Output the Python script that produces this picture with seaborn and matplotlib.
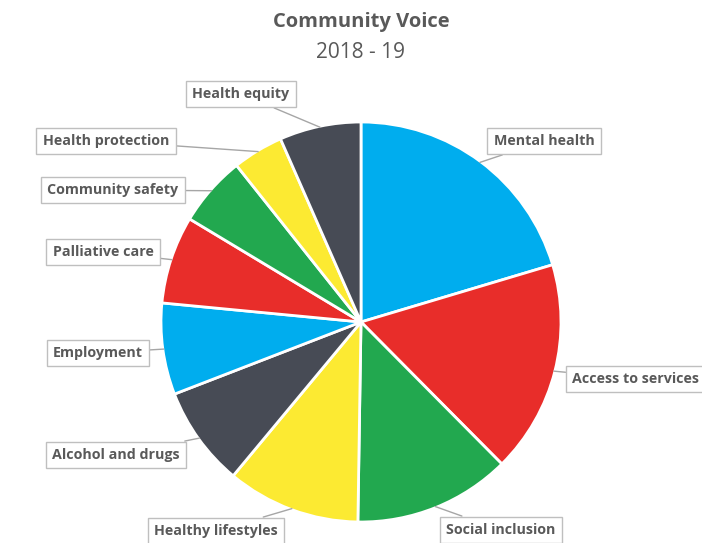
import matplotlib
matplotlib.use("Agg")
import matplotlib.pyplot as plt
import seaborn as sns
import numpy as np

categories = ["Mental health", "Access to services", "Social inclusion", "Healthy lifestyles",
              "Alcohol and drugs", "Employment", "Palliative care", "Community safety",
              "Health protection", "Health equity"]
values = [20.4, 17.2, 12.7, 10.8, 8.1, 7.4, 7.1, 5.7, 4.1, 6.6]
colors = ["#00ADEE", "#E82D2A", "#22A84F", "#FCEA32", "#474B55",
          "#00ADEE", "#E82D2A", "#22A84F", "#FCEA32", "#474B55"]
# label box centres (pixel coords, y from top)
label_pos = [(544, 141), (636, 379), (501, 530), (216, 531), (116, 455),
             (98, 353), (103, 252), (113, 190), (106, 141), (241, 94)]

sns.set_style("white")
plt.rcParams['font.family'] = ['Open Sans', 'DejaVu Sans']

W, H = 702, 543
fig = plt.figure(figsize=(W / 100, H / 100), dpi=100)
ax = fig.add_axes([0, 0, 1, 1])

cx, cy, R = 361, H - 322, 200
wedges, _ = ax.pie(values, colors=sns.color_palette(colors), startangle=90, counterclock=False,
                   center=(cx, cy), radius=R,
                   wedgeprops=dict(edgecolor="white", linewidth=2))
ax.set_xlim(0, W)
ax.set_ylim(0, H)
ax.set_aspect("equal")
ax.axis("off")

for w, lab, (lx, ly) in zip(wedges, categories, label_pos):
    ang = np.deg2rad((w.theta1 + w.theta2) / 2)
    px, py = cx + R * 0.995 * np.cos(ang), cy + R * 0.995 * np.sin(ang)
    ax.annotate(lab, xy=(px, py), xytext=(lx, H - ly), textcoords="data",
                ha="center", va="center", fontsize=10.3, fontweight="bold", color="#595959",
                bbox=dict(boxstyle="square,pad=0.45", fc="white", ec="#BFBFBF", lw=1),
                arrowprops=dict(arrowstyle="-", color="#A6A6A6", lw=1, shrinkA=0, shrinkB=0))

fig.text(361 / W, 1 - 22 / H, "Community Voice", ha="center", va="center",
         fontsize=14.5, fontweight="bold", color="#595959")
fig.text(361 / W, 1 - 53 / H, "2018 - 19", ha="center", va="center",
         fontsize=15, color="#595959")

fig.savefig("out.png", dpi=100)
